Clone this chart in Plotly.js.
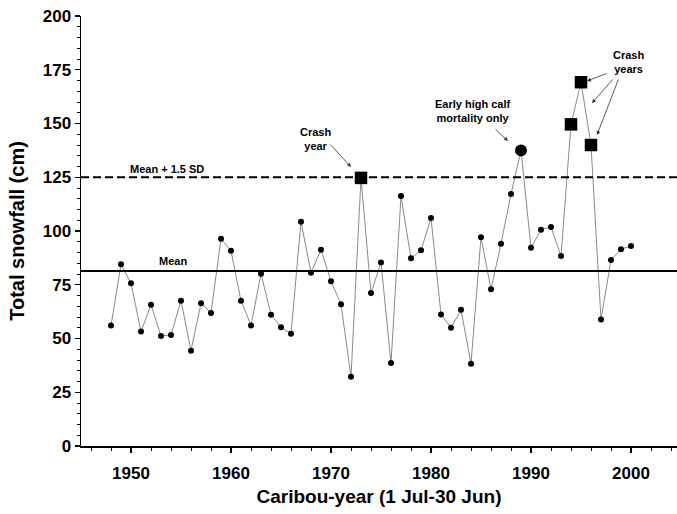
<!DOCTYPE html>
<html>
<head>
<meta charset="utf-8">
<script src="https://cdn.plot.ly/plotly-3.0.1.min.js"></script>
<style>html,body{margin:0;padding:0;background:#fff;}#chart{width:677px;height:514px;}</style>
</head>
<body>
<div id="chart"></div>
<script>
// Caribou-years and total snowfall (cm)
const years = [1948,1949,1950,1951,1952,1953,1954,1955,1956,1957,1958,1959,1960,1961,1962,1963,1964,1965,1966,1967,1968,1969,1970,1971,1972,1973,1974,1975,1976,1977,1978,1979,1980,1981,1982,1983,1984,1985,1986,1987,1988,1989,1990,1991,1992,1993,1994,1995,1996,1997,1998,1999,2000];
const snowfall = [56,84.5,75.7,53.2,65.7,51.2,51.6,67.6,44.3,66.4,61.9,96.4,90.8,67.6,56.1,80.1,61.1,55.2,52.2,104.3,80.6,91.3,76.6,65.9,32.2,124.7,71.2,85.3,38.6,116.3,87.3,91.0,106.0,61.2,55.0,63.4,38.3,97.1,72.9,94.1,117.2,137.5,92.2,100.6,101.9,88.4,149.6,169.2,140.0,58.8,86.5,91.5,93.0];
const crashYears = [1973,1994,1995,1996];
const earlyMortalityYears = [1989];
const meanSnow = 81.4;
const meanPlus15SD = 125;

const xTitle = 'Caribou-year (1 Jul-30 Jun)';
const yTitle = 'Total snowfall (cm)';

const reg = {x:[],y:[]}, crash = {x:[],y:[]}, early = {x:[],y:[]};
years.forEach((yr,i)=>{
  const v = snowfall[i];
  if (crashYears.includes(yr)) { crash.x.push(yr); crash.y.push(v); }
  else if (earlyMortalityYears.includes(yr)) { early.x.push(yr); early.y.push(v); }
  else { reg.x.push(yr); reg.y.push(v); }
});

const font = 'Liberation Sans, Arial, Helvetica, sans-serif';
const traces = [
  {x: years, y: snowfall, mode:'lines', line:{color:'#8a8a8a', width:1}, hoverinfo:'skip'},
  {x: reg.x, y: reg.y, mode:'markers', marker:{symbol:'circle', size:6, color:'#000'}},
  {x: early.x, y: early.y, mode:'markers', marker:{symbol:'circle', size:12, color:'#000'}},
  {x: crash.x, y: crash.y, mode:'markers', marker:{symbol:'square', size:12.5, color:'#000'}}
];

const annFont = {family: font, size: 11, color:'#000', weight: 'bold'};
const arrowBase = {showarrow:true, arrowhead:2, arrowsize:1, arrowwidth:0.8, arrowcolor:'#333', axref:'x', ayref:'y', text:''};

const layout = {
  width: 677, height: 514,
  margin: {l:81, r:0, t:16, b:68},
  paper_bgcolor:'#fff', plot_bgcolor:'#fff',
  showlegend:false,
  font:{family: font, color:'#000'},
  xaxis: {
    range:[1945.0, 2004.6], showgrid:false, zeroline:false,
    showline:true, linecolor:'#000', linewidth:1.5,
    ticks:'outside', ticklen:5, tickwidth:1.2, tickcolor:'#000',
    dtick:10, tick0:1950, tickfont:{family:font, size:17, weight:'bold'},
    ticklabelstandoff: 6,
    minor:{dtick:2, tick0:1950, ticks:'outside', ticklen:3, tickcolor:'#000', tickwidth:1, showgrid:false},
    title:{text:xTitle, font:{family:font, size:19, weight:'bold'}, standoff:8}
  },
  yaxis: {
    range:[0,200], showgrid:false, zeroline:false,
    showline:true, linecolor:'#000', linewidth:1.5,
    ticks:'outside', ticklen:5, tickwidth:1.2, tickcolor:'#000',
    dtick:25, tick0:0, tickfont:{family:font, size:17, weight:'bold'},
    ticklabelstandoff: 0,
    minor:{dtick:5, tick0:0, ticks:'outside', ticklen:3, tickcolor:'#000', tickwidth:1, showgrid:false},
    title:{text:yTitle, font:{family:font, size:20, weight:'bold'}, standoff:12}
  },
  shapes: [
    {type:'line', xref:'paper', x0:0, x1:1, yref:'y', y0:meanSnow, y1:meanSnow, line:{color:'#000', width:1.8}},
    {type:'line', xref:'paper', x0:0, x1:1, yref:'y', y0:meanPlus15SD, y1:meanPlus15SD, line:{color:'#000', width:1.8, dash:'8px,4px'}}
  ],
  annotations: [
    {x:1953.6, y:meanPlus15SD, yshift:8, text:'Mean + 1.5 SD', showarrow:false, font:annFont},
    {x:1954.2, y:meanSnow, yshift:10, text:'Mean', showarrow:false, font:annFont},
    {x:1968.4, y:143, text:'Crash<br>year', showarrow:false, font:annFont, yanchor:'middle'},
    {x:1984.2, y:155.6, text:'Early high calf<br>mortality only', showarrow:false, font:annFont, yanchor:'middle'},
    {x:1999.7, y:178.4, text:'Crash<br>years', showarrow:false, font:annFont, yanchor:'middle'},
    Object.assign({}, arrowBase, {x:1972.0, y:129.8, ax:1969.8, ay:140.9}),
    Object.assign({}, arrowBase, {x:1987.7, y:141.9, ax:1986.3, ay:147.9}),
    Object.assign({}, arrowBase, {x:1995.6, y:169.8, ax:1997.7, ay:173.5}),
    Object.assign({}, arrowBase, {x:1996.1, y:159.5, ax:1998.3, ay:171.2}),
    Object.assign({}, arrowBase, {x:1996.6, y:144.7, ax:1998.8, ay:171.2})
  ]
};

Plotly.newPlot('chart', traces, layout, {staticPlot:true, displayModeBar:false});
</script>
</body>
</html>
